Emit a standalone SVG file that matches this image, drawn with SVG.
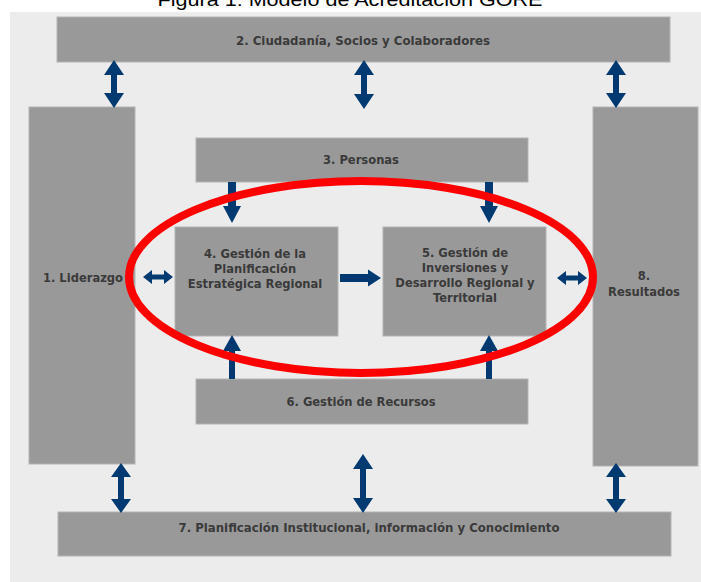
<svg xmlns="http://www.w3.org/2000/svg" width="701" height="582" viewBox="0 0 701 582">
<style>
.box{fill:#999999;stroke:#b3b3b3;stroke-width:1}
.lbl{font-family:"DejaVu Sans Condensed","DejaVu Sans",sans-serif;font-stretch:condensed;font-weight:bold;font-size:12.8px;fill:#3a3a3a;text-anchor:middle}
.arr{fill:#003a70}
.title{font-family:"Liberation Sans",Arial,sans-serif;font-size:18px;fill:#000;text-anchor:middle}
</style>
<rect x="0" y="0" width="701" height="582" fill="#ffffff"/>
<text class="title" x="350" y="6" textLength="385" lengthAdjust="spacingAndGlyphs">Figura 1: Modelo de Acreditación GORE</text>
<rect x="10" y="12" width="691" height="570" fill="#ececec"/>

<g id="n2"><rect class="box" x="57" y="17" width="613" height="45"/><text class="lbl" x="363" y="44.5" textLength="254" lengthAdjust="spacingAndGlyphs">2. Ciudadanía, Socios y Colaboradores</text></g>
<g id="n1"><rect class="box" x="29" y="107" width="106" height="357"/><text class="lbl" x="83" y="281.5">1. Liderazgo</text></g>
<g id="n8"><rect class="box" x="593" y="107" width="105" height="359"/><text class="lbl" x="644" y="279.5">8.</text><text class="lbl" x="644" y="295.5">Resultados</text></g>
<g id="n3"><rect class="box" x="196" y="138" width="332" height="44"/><text class="lbl" x="361" y="163.5">3. Personas</text></g>
<g id="n4"><rect class="box" x="175" y="227" width="163" height="109"/><text class="lbl" x="255" y="257.5">4. Gestión de la</text><text class="lbl" x="255" y="272.5">Planificación</text><text class="lbl" x="255" y="287.5">Estratégica Regional</text></g>
<g id="n5"><rect class="box" x="383" y="227" width="163" height="109"/><text class="lbl" x="465" y="256.5">5. Gestión de</text><text class="lbl" x="465" y="271.5">Inversiones y</text><text class="lbl" x="465" y="286.5">Desarrollo Regional y</text><text class="lbl" x="465" y="301.5">Territorial</text></g>
<g id="n6"><rect class="box" x="196" y="379" width="332" height="45"/><text class="lbl" x="361" y="405.5" textLength="149" lengthAdjust="spacingAndGlyphs">6. Gestión de Recursos</text></g>
<g id="n7"><rect class="box" x="58" y="512" width="613" height="44"/><text class="lbl" x="369" y="531.5" textLength="381" lengthAdjust="spacingAndGlyphs">7. Planificación Institucional, información y Conocimiento</text></g>

<g id="connectors">
<path class="arr" d="M114,60 L124,75 L117,75 L117,93 L124,93 L114,108 L104,93 L111,93 L111,75 L104,75 Z"/>
<path class="arr" d="M364,60 L374,75 L367,75 L367,94 L374,94 L364,109 L354,94 L361,94 L361,75 L354,75 Z"/>
<path class="arr" d="M616,60 L626,75 L619,75 L619,93 L626,93 L616,108 L606,93 L613,93 L613,75 L606,75 Z"/>
<path class="arr" d="M121,463 L131,477 L124,477 L124,499 L131,499 L121,513 L111,499 L118,499 L118,477 L111,477 Z"/>
<path class="arr" d="M363,454 L373,469 L366,469 L366,498 L373,498 L363,513 L353,498 L360,498 L360,469 L353,469 Z"/>
<path class="arr" d="M616,463 L626,477 L619,477 L619,499 L626,499 L616,513 L606,499 L613,499 L613,477 L606,477 Z"/>
<path class="arr" d="M228,182 L236,182 L236,206 L241,206 L232,223 L223,206 L228,206 Z"/>
<path class="arr" d="M485,182 L493,182 L493,206 L498,206 L489,223 L480,206 L485,206 Z"/>
<path class="arr" d="M229,379 L235,379 L235,351 L241,351 L232,335 L223,351 L229,351 Z"/>
<path class="arr" d="M486,379 L492,379 L492,351 L498,351 L489,335 L480,351 L486,351 Z"/>
<path class="arr" d="M143,277 L152,270 L152,274.5 L164,274.5 L164,270 L173,277 L164,284 L164,279.5 L152,279.5 L152,284 Z"/>
<path class="arr" d="M557,278 L566,271 L566,275.5 L578,275.5 L578,271 L587,278 L578,285 L578,280.5 L566,280.5 L566,285 Z"/>
<path class="arr" d="M340,274 L368,274 L368,269.5 L381,278 L368,286.5 L368,282 L340,282 Z"/>
</g>
<ellipse cx="361" cy="277" rx="232" ry="96" fill="none" stroke="#ff0000" stroke-width="8"/>
</svg>
